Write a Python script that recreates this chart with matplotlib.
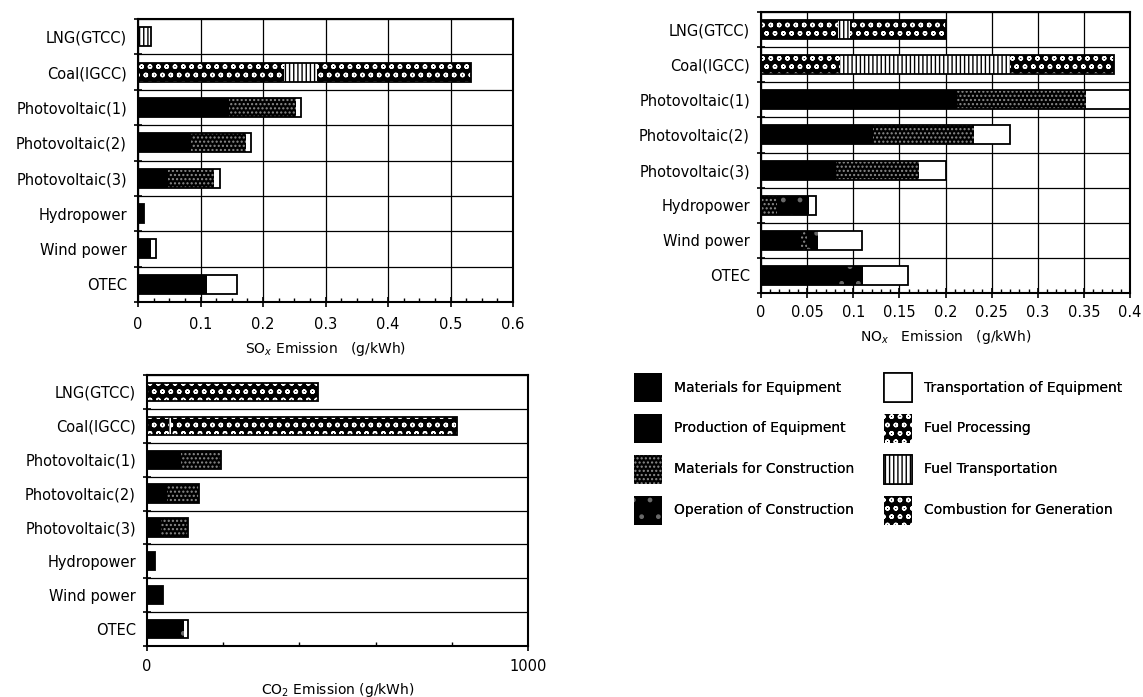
import numpy as np
import matplotlib.pyplot as plt
from matplotlib import ticker
from matplotlib.patches import Patch

plt.rcParams['font.family'] = ['DejaVu Sans']
plt.rcParams['hatch.linewidth'] = 1.0

plants = ["LNG(GTCC)", "Coal(IGCC)", "Photovoltaic(1)", "Photovoltaic(2)",
          "Photovoltaic(3)", "Hydropower", "Wind power", "OTEC"]
stages = ["Materials for Equipment", "Production of Equipment",
          "Materials for Construction", "Operation of Construction",
          "Transportation of Equipment", "Fuel Processing",
          "Fuel Transportation", "Combustion for Generation"]

# one row per stage, one column per plant (g/kWh)
sox = [
    [0, 0, 0.100, 0.060, 0.034, 0.009, 0.020, 0.110],   # Materials for Equipment
    [0, 0, 0.045, 0.025, 0.014, 0, 0, 0],                # Production of Equipment
    [0, 0, 0.107, 0.087, 0.074, 0, 0, 0],                # Materials for Construction
    [0, 0, 0, 0, 0, 0, 0, 0],                            # Operation of Construction
    [0, 0, 0.008, 0.009, 0.009, 0, 0.0095, 0.048],       # Transportation of Equipment
    [0, 0.234, 0, 0, 0, 0, 0, 0],                        # Fuel Processing
    [0.021, 0.053, 0, 0, 0, 0, 0, 0],                    # Fuel Transportation
    [0, 0.246, 0, 0, 0, 0, 0, 0],                        # Combustion for Generation
]
nox = [
    [0, 0, 0.150, 0.085, 0.057, 0, 0.043, 0.082],
    [0, 0, 0.063, 0.036, 0.024, 0, 0, 0],
    [0, 0, 0.139, 0.110, 0.090, 0.017, 0.007, 0],
    [0, 0, 0, 0, 0, 0.035, 0.012, 0.029],
    [0, 0, 0.048, 0.039, 0.030, 0.008, 0.048, 0.048],
    [0.083, 0.086, 0, 0, 0, 0, 0, 0],
    [0.013, 0.184, 0, 0, 0, 0, 0, 0],
    [0.104, 0.113, 0, 0, 0, 0, 0, 0],
]
co2 = [
    [0, 0, 62, 37, 25, 21, 42, 78],
    [0, 0, 28, 16, 11, 0, 0, 0],
    [0, 0, 104, 84, 72, 0, 0, 0],
    [0, 0, 0, 0, 0, 0, 0, 20],
    [0, 0, 0, 0, 0, 0, 0, 10],
    [18, 58, 0, 0, 0, 0, 0, 0],
    [0, 5, 0, 0, 0, 0, 0, 0],
    [431, 750, 0, 0, 0, 0, 0, 0],
]

# face colour, hatch, hatch colour for each stage
styles = [
    ("black", None, "black"),
    ("black", None, "black"),
    ("black", "....", "#8c8c8c"),
    ("black", ".", "#6a6a6a"),
    ("white", None, "black"),
    ("black", "oo", "white"),
    ("white", "||||", "black"),
    ("black", "oo", "white"),
]

fig = plt.figure(figsize=(11.43, 6.97), dpi=100)
fig.set_facecolor("white")

H = 0.54
y = np.arange(len(plants))


def draw(ax, values, xmax, major, minor_n, xlabel, tpad, lpad, grid_x=True):
    left = np.zeros(len(plants))
    for vals, (fc, hatch, hc) in zip(values, styles):
        vals = np.array(vals, dtype=float)
        ax.barh(y, vals, H, left=left, color=fc, edgecolor=hc, hatch=hatch,
                linewidth=0, zorder=3)
        left += vals
    ax.barh(y, left, H, fill=False, edgecolor="black", linewidth=1.3, zorder=4)

    ax.set_ylim(len(plants) - 0.5, -0.5)
    ax.set_xlim(0, xmax)
    ax.yaxis.set_major_locator(ticker.FixedLocator(np.arange(-0.5, len(plants), 1)))
    ax.yaxis.set_major_formatter(ticker.NullFormatter())
    ax.yaxis.set_minor_locator(ticker.FixedLocator(y))
    ax.yaxis.set_minor_formatter(ticker.FixedFormatter(plants))
    ax.tick_params(axis="y", which="major", direction="inout", length=6, width=1.2)
    ax.tick_params(axis="y", which="minor", length=0, pad=8, labelsize=10.5)
    ax.xaxis.set_major_locator(major)
    ax.xaxis.set_minor_locator(minor_n)
    ax.xaxis.set_major_formatter(ticker.FuncFormatter(lambda v, p: f"{v:g}"))
    ax.tick_params(axis="x", which="major", direction="inout", length=7, width=1.2,
                   labelsize=10.5, pad=tpad)
    ax.tick_params(axis="x", which="minor", direction="in", length=3, width=1)
    ax.grid(True, axis="y", which="major", color="black", linewidth=0.9, zorder=1)
    if grid_x:
        ax.grid(True, axis="x", which="major", color="black", linewidth=0.9, zorder=1)
    for s in ax.spines.values():
        s.set_linewidth(1.5)
        s.set_zorder(5)
    ax.set_axisbelow(True)
    ax.set_xlabel(xlabel, fontsize=10, labelpad=lpad)


ax1 = fig.add_axes([138 / 1143, 1 - 302 / 697, 375 / 1143, 283 / 697])
draw(ax1, sox, 0.6, ticker.MultipleLocator(0.1), ticker.AutoMinorLocator(4),
     "SO$_x$ Emission   (g/kWh)", 7, 6)

ax2 = fig.add_axes([761 / 1143, 1 - 293 / 697, 369 / 1143, 281 / 697])
draw(ax2, nox, 0.4, ticker.MultipleLocator(0.05), ticker.AutoMinorLocator(5),
     "NO$_x$   Emission   (g/kWh)", 5, 6)

ax3 = fig.add_axes([147 / 1143, 1 - 646 / 697, 381 / 1143, 271 / 697])
draw(ax3, co2, 1000, ticker.FixedLocator([0, 1000]), ticker.MultipleLocator(200),
     "CO$_2$ Emission (g/kWh)", 6, 5, grid_x=False)

# legend in two columns
handles = []
for (fc, hatch, hc) in styles:
    if fc == "white":
        handles.append(Patch(facecolor=fc, edgecolor="black", hatch=hatch, linewidth=1.2))
    else:
        handles.append(Patch(facecolor=fc, edgecolor=hc, hatch=hatch, linewidth=0))

for col, x0 in enumerate([634, 884]):
    leg = fig.legend(handles[col * 4:(col + 1) * 4], stages[col * 4:(col + 1) * 4],
                     loc="upper left", bbox_to_anchor=(x0 / 1143, 1 - 373 / 697),
                     frameon=False, fontsize=10, handlelength=2.0, handleheight=2.83,
                     labelspacing=0.86, handletextpad=0.85, borderpad=0,
                     borderaxespad=0)
    fig.add_artist(leg)

fig.savefig("out.png", dpi=100)
